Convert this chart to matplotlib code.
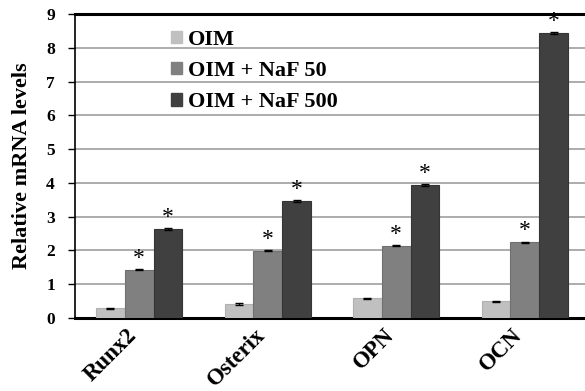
import matplotlib
matplotlib.use("Agg")
import matplotlib.pyplot as plt
import matplotlib.transforms as mtrans
import numpy as np
from matplotlib.patches import Patch

categories = ["Runx2", "Osterix", "OPN", "OCN"]
series_names = ["OIM", "OIM + NaF 50", "OIM + NaF 500"]
oim = [0.29, 0.41, 0.58, 0.49]
naf50 = [1.43, 1.99, 2.14, 2.24]
naf500 = [2.63, 3.46, 3.94, 8.45]
err_oim = [0.02, 0.02, 0.02, 0.02]
err_naf50 = [0.02, 0.02, 0.02, 0.02]
err_naf500 = [0.03, 0.03, 0.03, 0.03]
sig_naf50 = [True, True, True, True]
sig_naf500 = [True, True, True, True]
yticks = list(range(0, 10))

colors = ["#c0c0c0", "#808080", "#404040"]
edges = ["#b0b0b0", "#707070", "#353535"]

plt.rcParams["font.family"] = ["Liberation Serif", "DejaVu Serif"]
plt.rcParams["font.weight"] = "bold"

fig = plt.figure(figsize=(5.85, 3.91), dpi=100)
ax = fig.add_axes([75/585, 1 - 318/391, (589 - 75)/585, (318 - 14)/391])

x = np.arange(len(categories))
w = 0.224
series = [oim, naf50, naf500]
errs = [err_oim, err_naf50, err_naf500]
sigs = [None, sig_naf50, sig_naf500]
for i, (vals, e, c, ec) in enumerate(zip(series, errs, colors, edges)):
    pos = x + (i - 1) * w
    ax.bar(pos, vals, width=w, color=c, edgecolor=ec, linewidth=0.8, zorder=3,
           label=series_names[i])
    ax.errorbar(pos, vals, yerr=e, fmt="none", ecolor="black", elinewidth=0.8,
                capsize=3, capthick=1.0, zorder=4)
    if sigs[i] is not None:
        for p, v, s in zip(pos, vals, sigs[i]):
            if s:
                ax.text(p, v + 0.03, "*", ha="center", va="bottom",
                        fontsize=17, fontweight="normal", zorder=5)

ax.set_xlim(-0.5, 3.5)
ax.set_ylim(0, 9)
ax.set_yticks(yticks)
ax.set_yticklabels([str(t) for t in yticks], fontsize=12.5, fontweight="bold")
ax.yaxis.grid(True, color="#a6a6a6", linewidth=1.3, zorder=0)
ax.set_axisbelow(True)
ax.set_xticks(x)
ax.set_xticklabels(categories, rotation=45, ha="right", rotation_mode="anchor",
                   fontsize=16.5, fontweight="bold")
ax.tick_params(axis="x", length=0, pad=5)
ax.tick_params(axis="y", length=5, width=1, direction="out", pad=9.5)
offset = mtrans.ScaledTranslation(-13/100, 0, fig.dpi_scale_trans)
for lbl in ax.get_xticklabels():
    lbl.set_transform(lbl.get_transform() + offset)
ax.set_ylabel("Relative mRNA levels", fontsize=16, fontweight="bold", labelpad=10)

ax.spines["top"].set_linewidth(2.2)
ax.spines["left"].set_linewidth(1.2)
ax.spines["bottom"].set_linewidth(2.2)
ax.spines["right"].set_visible(False)
for s in ["top", "left", "bottom"]:
    ax.spines[s].set_color("black")

handles = [Patch(facecolor=c, edgecolor=c) for c in colors]
leg = ax.legend(handles, series_names, loc="upper left",
                bbox_to_anchor=((162 - 75) / 514, 1 - (21 - 14) / 304),
                frameon=False, prop={"size": 16, "weight": "bold"},
                handlelength=0.5, handleheight=0.5, handletextpad=0.25,
                labelspacing=0.5, borderaxespad=0)

fig.savefig("out.png", dpi=100)
